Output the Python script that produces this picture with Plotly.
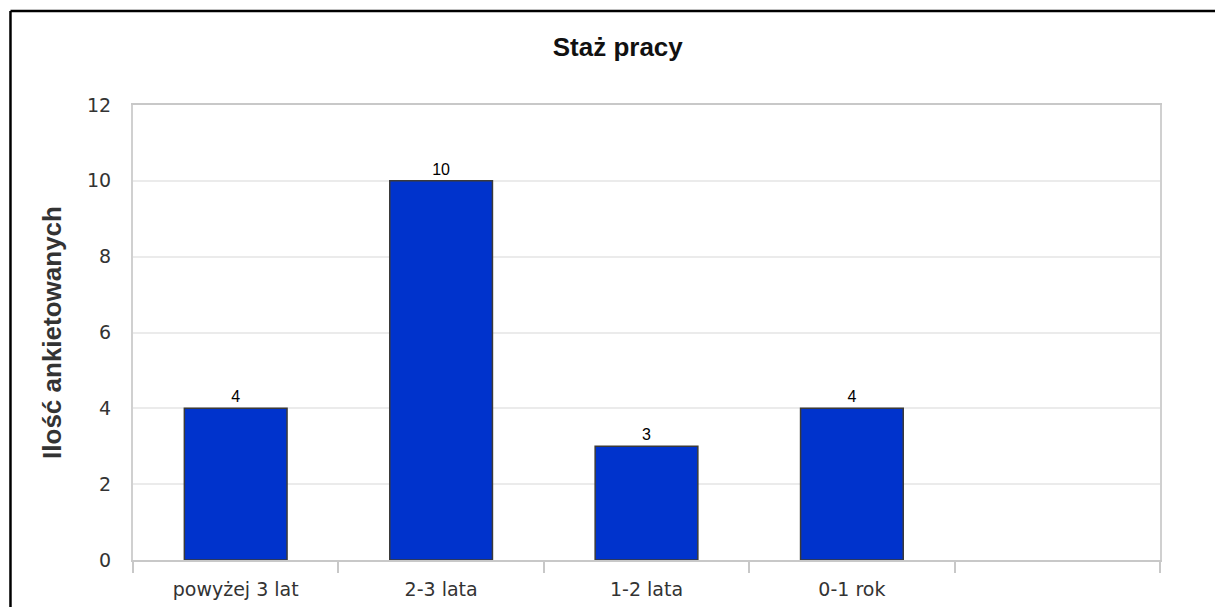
import plotly.graph_objects as go

# data
categories = ["powyżej 3 lat", "2-3 lata", "1-2 lata", "0-1 rok", " "]
values = [4, 10, 3, 4, None]
labels = ["4", "10", "3", "4", ""]
y_ticks = [0, 2, 4, 6, 8, 10, 12]

fig = go.Figure(go.Bar(
    x=categories,
    y=values,
    text=labels,
    textposition="outside",
    cliponaxis=False,
    textfont=dict(family="Liberation Sans", size=16, color="#000000"),
    marker=dict(color="#0033CC", line=dict(color="#3a3a3a", width=1.5)),
    width=0.5,
))

fig.update_layout(
    width=1215, height=607,
    margin=dict(l=133, r=55, t=105, b=47),
    paper_bgcolor="white",
    plot_bgcolor="white",
    showlegend=False,
    title=dict(text="<b>Staż pracy</b>", x=0.472, xref="paper", y=0.922, yref="container",
               xanchor="center", yanchor="middle",
               font=dict(family="Liberation Sans", size=26, color="#111111")),
    # black frame round the picture (only left and top edges are visible)
    shapes=[
        dict(type="line", xref="paper", yref="paper", x0=-0.1193, x1=-0.1193, y0=-0.3, y1=1.2066,
             line=dict(color="#000000", width=2.5)),
        dict(type="line", xref="paper", yref="paper", x0=-0.1193, x1=1.3, y0=1.2066, y1=1.2066,
             line=dict(color="#000000", width=2.5)),
    ],
)

fig.update_xaxes(
    type="category",
    automargin=False,
    showline=True, linecolor="#c8c8c8", linewidth=2, mirror=True,
    ticks="outside", tickson="boundaries", ticklen=11, tickcolor="#c8c8c8", tickwidth=2,
    showgrid=False,
    ticklabelstandoff=11,
    tickfont=dict(family="DejaVu Sans", size=19, color="#333333"),
)

fig.update_yaxes(
    range=[0, 12], tickvals=y_ticks,
    automargin=False,
    showline=True, linecolor="#d0d0d0", linewidth=2, mirror=True,
    showgrid=True, gridcolor="#ebebeb", gridwidth=1.5,
    zeroline=False,
    ticks="", ticklabelstandoff=16,
    tickfont=dict(family="DejaVu Sans", size=19, color="#333333"),
    title=dict(text="<b>Ilość ankietowanych</b>", standoff=18,
               font=dict(family="Liberation Sans", size=26, color="#333333")),
)

# drop the page margin so the figure sits at the window corner
fig.write_html("out.html", config={"displayModeBar": False},
               post_script="document.body.style.margin='0';document.body.style.overflow='hidden';")
